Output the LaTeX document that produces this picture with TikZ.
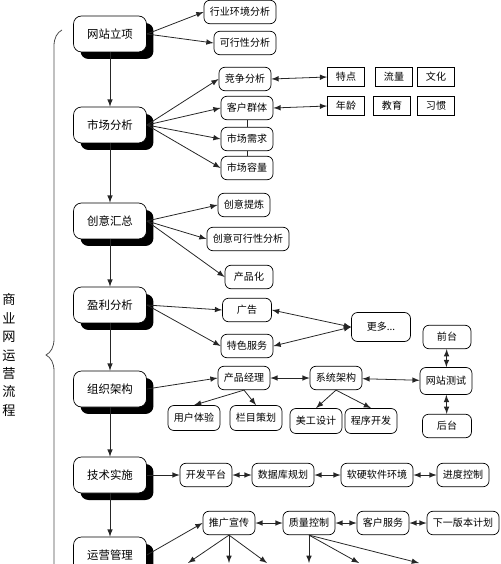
\documentclass[tikz,border=0pt]{standalone}
\usepackage{fontspec}
\newfontfamily\cjk{Noto Sans CJK SC}
\usepackage{tikz}
\usetikzlibrary{calc,shadows,arrows,shapes}
\usetikzlibrary{decorations.pathreplacing}
\usetikzlibrary{positioning}

\tikzset{
	mainbox/.style={draw, fill=white, rounded corners=0.16cm, minimum width=1.46cm, minimum height=0.72cm,
		font=\cjk\fontsize{6.5pt}{8pt}\selectfont,
		drop shadow={shadow xshift=0.14cm, shadow yshift=-0.14cm, fill=black, opacity=1}},
	subbox/.style={draw, fill=white, rounded corners=0.12cm, minimum height=0.47cm, inner xsep=0.12cm, inner ysep=0pt,
		font=\cjk\fontsize{5.7pt}{7pt}\selectfont},
	tagbox/.style={draw, minimum width=0.74cm, minimum height=0.38cm, inner sep=0pt,
		font=\cjk\fontsize{5.7pt}{7pt}\selectfont},
	link/.style={->,>=latex, black!85, line width=0.45pt},
	dlink/.style={<->,>=latex, black!85, line width=0.45pt},
}

\begin{document}
\begin{tikzpicture}[x=0.02cm, y=-0.02cm]
			
			\path[use as bounding box] (0,0) rectangle (500,564);
			\clip (0,0) rectangle (500,564);
			
			% title and brace
			\node[font=\cjk\fontsize{7.5pt}{10.5pt}\selectfont, align=center] (title) at (9,355) {商\\业\\网\\运\\营\\流\\程};
			\draw[black!70, line width=0.45pt, decorate, decoration={brace, amplitude=0.32cm}] (62,680) -- (62,30);
			
			% main steps
			\node[mainbox] (ws) at (110,34) {网站立项};
			\node[mainbox] (sc) at (110,125) {市场分析};
			\node[mainbox] (cy) at (110,221) {创意汇总};
			\node[mainbox] (yl) at (110,305) {盈利分析};
			\node[mainbox] (zz) at (110,389) {组织架构};
			\node[mainbox] (js) at (110,475) {技术实施};
			\node[mainbox] (yy) at (110,555) {运营管理};
			
			\draw[link] (ws) -- (sc);
			\draw[link] (sc) -- (cy);
			\draw[link] (cy) -- (yl);
			\draw[link] (yl) -- (zz);
			\draw[link] (zz) -- (js);
			\draw[link] (js) -- (yy);
			
			% 网站立项
			\node[subbox] (hy) at (240,12) {行业环境分析};
			\node[subbox] (kx) at (245,43) {可行性分析};
			\draw[link] (ws.east) -- (hy.west);
			\draw[link] (ws.east) -- (kx.west);
			
			% 市场分析
			\node[subbox] (jz) at (245,79) {竞争分析};
			\node[subbox] (kh) at (247,108) {客户群体};
			\node[subbox] (xq) at (247,139) {市场需求};
			\node[subbox] (rl) at (247,168) {市场容量};
			\draw[link] (sc.east) -- (jz.west);
			\draw[link] (sc.east) -- (kh.west);
			\draw[link] (sc.east) -- (xq.west);
			\draw[link] (sc.east) -- (rl.west);
			\draw[black!85, line width=0.45pt] (kh) -- (xq) (xq) -- (rl);
			
			\node[tagbox] (td) at (346,77) {特点};
			\node[tagbox] (ll) at (394,77) {流量};
			\node[tagbox] (wh) at (436,77) {文化};
			\node[tagbox] (nl) at (346,106) {年龄};
			\node[tagbox] (jy) at (392,106) {教育};
			\node[tagbox] (xg) at (436,106) {习惯};
			\draw[dlink] (jz.east) -- (td.west);
			\draw[dlink] (kh.east) -- (nl.west);
			
			% 创意汇总
			\node[subbox] (tl) at (244,205) {创意提炼};
			\node[subbox] (kxx) at (248,239) {创意可行性分析};
			\node[subbox, minimum width=0.96cm] (cph) at (249,277) {产品化};
			\draw[link] (cy.east) -- (tl.west);
			\draw[link] (cy.east) -- (kxx.west);
			\draw[link] (cy.east) -- (cph.west);
			
			% 盈利分析
			\node[subbox, minimum width=0.98cm] (gg) at (247,310) {广告};
			\node[subbox] (ts) at (247,346) {特色服务};
			\node[subbox, minimum width=1.18cm, minimum height=0.58cm] (gd) at (381,327) {更多...};
			\draw[link] (yl.east) -- (gg.west);
			\draw[link] (yl.east) -- (ts.west);
			\draw[dlink] (gg.east) -- (gd.west);
			\draw[dlink] (ts.east) -- (gd.west);
			
			% 组织架构
			\node[subbox] (cp) at (244,378) {产品经理};
			\node[subbox] (xt) at (336,378) {系统架构};
			\node[subbox, minimum height=0.54cm] (cs) at (446,381) {网站测试};
			\node[subbox, minimum width=0.96cm] (qt) at (447,337) {前台};
			\node[subbox, minimum width=0.98cm] (ht) at (447,426) {后台};
			\node[subbox, minimum height=0.5cm] (yh) at (194,418) {用户体验};
			\node[subbox, minimum height=0.5cm] (lm) at (256,418) {栏目策划};
			\node[subbox, minimum height=0.5cm] (mg) at (316,421) {美工设计};
			\node[subbox, minimum height=0.5cm] (cx) at (371,421) {程序开发};
			\draw[link] (zz.east) -- (cp.west);
			\draw[dlink] (cp) -- (xt);
			\draw[dlink] (xt) -- (cs);
			\draw[dlink] (qt) -- (cs);
			\draw[dlink] (cs) -- (ht);
			\draw[link] (cp.south) -- (yh.north);
			\draw[link] (cp.south) -- (lm.north);
			\draw[link] (xt.south) -- (mg.north);
			\draw[link] (xt.south) -- (cx.north);
			
			% 技术实施
			\node[subbox] (kf) at (206,475) {开发平台};
			\node[subbox] (sj) at (283,475) {数据库规划};
			\node[subbox] (rj) at (377,475) {软硬软件环境};
			\node[subbox] (jd) at (463,475) {进度控制};
			\draw[link] (js.east) -- (kf.west);
			\draw[dlink] (kf) -- (sj);
			\draw[dlink] (sj) -- (rj);
			\draw[dlink] (rj) -- (jd);
			
			% 运营管理
			\node[subbox, minimum width=0.98cm] (tg) at (229,523) {推广宣传};
			\node[subbox] (zl) at (309,523) {质量控制};
			\node[subbox] (fw) at (383,523) {客户服务};
			\node[subbox] (xb) at (463,523) {下一版本计划};
			\draw[link] (yy.east) -- (tg.west);
			\draw[dlink] (tg) -- (zl);
			\draw[dlink] (zl) -- (fw);
			\draw[dlink] (fw) -- (xb);
			
			\coordinate (e1) at (188,563);
			\coordinate (e2) at (229,563);
			\coordinate (e3) at (267,563);
			\coordinate (e4) at (309,563);
			\coordinate (e5) at (359,563);
			\coordinate (e6) at (419,563);
			\foreach \e in {e1,e2,e3} \draw[link] (tg.south) -- (\e);
			\foreach \e in {e4,e5,e6} \draw[link] (zl.south) -- (\e);
			
		\end{tikzpicture}
\end{document}
